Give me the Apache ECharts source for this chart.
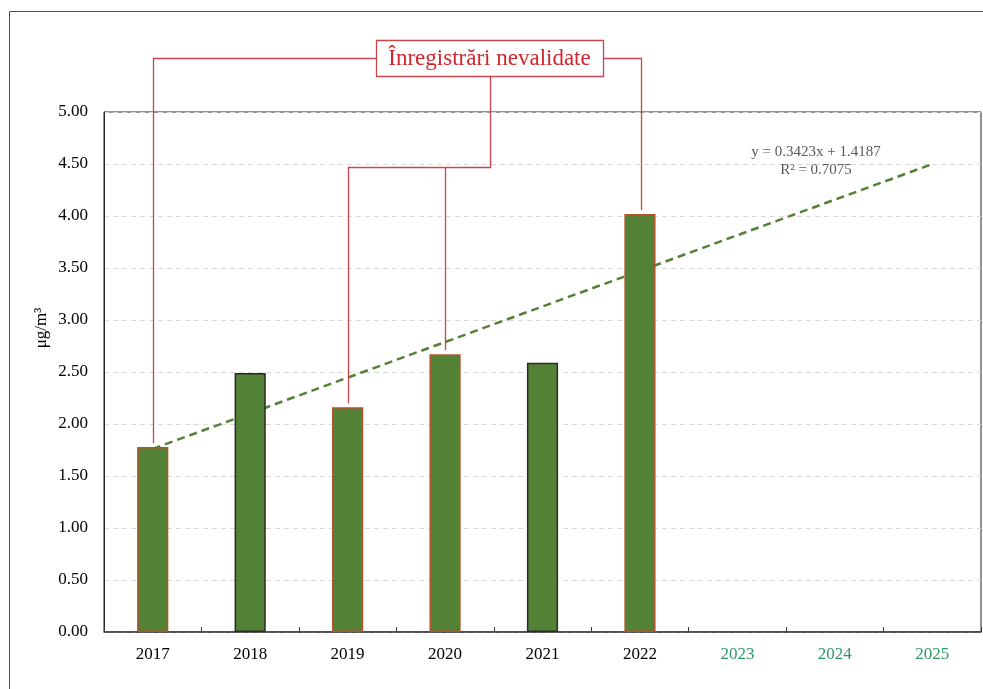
<!DOCTYPE html>
<html>
<head>
<meta charset="utf-8">
<script src="https://cdn.jsdelivr.net/npm/echarts@6/dist/echarts.min.js"></script>
<style>
  html, body { margin: 0; padding: 0; background: #fff; }
  #chart { width: 983px; height: 689px; }
</style>
</head>
<body>
<div id="chart"></div>
<script>
// Annual mean concentrations (µg/m³)
var years = ['2017', '2018', '2019', '2020', '2021', '2022', '2023', '2024', '2025'];
var values = [1.78, 2.49, 2.16, 2.67, 2.59, 4.02, null, null, null];
// Years whose records were not validated
var invalidYears = ['2017', '2019', '2020', '2022'];
// Linear trend (x = 1 for the first year)
var trendSlope = 0.3423;
var trendIntercept = 1.4187;
var trendR2 = 0.7075;
var forecastYears = ['2023', '2024', '2025'];
var yTicks = [0, 0.5, 1, 1.5, 2, 2.5, 3, 3.5, 4, 4.5, 5];

var SERIF = '"Liberation Serif", "Times New Roman", serif';
var GREEN = '#538135';
var RED = '#c9474c';

var chart = echarts.init(document.getElementById('chart'));

var barData = values.map(function (v, i) {
  var invalid = invalidYears.indexOf(years[i]) >= 0;
  return {
    value: v,
    itemStyle: { borderColor: invalid ? '#b5532b' : '#2b2b2b' }
  };
});

var lastIdx = years.length - 1;
var trendData = [
  [0, trendIntercept + trendSlope * 1],
  [lastIdx, trendIntercept + trendSlope * (lastIdx + 1)]
];

chart.setOption({
  animation: false,
  backgroundColor: '#fff',
  grid: {
    left: 104, right: 2, top: 112, bottom: 57,
    show: true, borderColor: '#262626', borderWidth: 1, backgroundColor: 'transparent'
  },
  xAxis: {
    type: 'category',
    data: years,
    boundaryGap: true,
    axisLine: { lineStyle: { color: '#3a3a3a', width: 1.5 } },
    axisTick: { show: true, inside: true, length: 5, lineStyle: { color: '#3a3a3a' } },
    axisLabel: {
      fontFamily: SERIF, fontSize: 17, margin: 14,
      color: function (val) {
        return forecastYears.indexOf(val) >= 0 ? '#2e9a62' : '#000';
      }
    },
    splitLine: { show: false }
  },
  yAxis: {
    type: 'value',
    min: 0, max: 5, interval: 0.5,
    axisLine: { show: true, lineStyle: { color: '#262626' } },
    axisTick: { show: false },
    axisLabel: {
      fontFamily: SERIF, fontSize: 17, color: '#000', margin: 16,
      formatter: function (v) { return v.toFixed(2); }
    },
    splitLine: { show: true, lineStyle: { color: '#d9d9d9', type: [5, 4] } }
  },
  series: [
    {
      type: 'bar',
      data: barData,
      barWidth: '32%',
      itemStyle: { color: GREEN, borderWidth: 1.5 },
      z: 2
    },
    {
      type: 'line',
      data: trendData,
      symbol: 'none',
      lineStyle: { color: GREEN, width: 2.5, type: [8, 5] },
      z: 1
    }
  ]
});

function px(idx, val) {
  return chart.convertToPixel({ gridIndex: 0 }, [idx, val]);
}

// Callout connectors from the label box down to the bars of the unvalidated years
function connectorTop(year) {
  var i = years.indexOf(year);
  var p = px(i, values[i]);
  return [Math.round(p[0]) + 0.5, p[1] - 4];
}
var c17 = connectorTop('2017');
var c19 = connectorTop('2019');
var c20 = connectorTop('2020');
var c22 = connectorTop('2022');
var boxL = 376, boxR = 603, boxT = 40, boxB = 76, midY = 58.5;
var stemX = 490.5, branchY = 167.5;

var lineStyle = { stroke: RED, lineWidth: 1.3, fill: null };

chart.setOption({
  graphic: [
    // outer frame
    { type: 'rect', shape: { x: 9.5, y: 11.5, width: 1000, height: 700 },
      style: { fill: null, stroke: '#4d4d4d', lineWidth: 1 }, silent: true },
    // y-axis title
    { type: 'text', x: 42, y: 328, rotation: Math.PI / 2,
      style: { text: 'μg/m³', font: '17px ' + SERIF, fill: '#000',
               textAlign: 'center', textVerticalAlign: 'middle' } },
    // trend equation
    { type: 'text', x: 816, y: 152,
      style: { text: 'y = ' + trendSlope.toFixed(4) + 'x + ' + trendIntercept.toFixed(4),
               font: '15px ' + SERIF, fill: '#595959', textAlign: 'center', textVerticalAlign: 'middle' } },
    { type: 'text', x: 816, y: 170,
      style: { text: 'R² = ' + trendR2.toFixed(4),
               font: '15px ' + SERIF, fill: '#595959', textAlign: 'center', textVerticalAlign: 'middle' } },
    // connectors
    { type: 'polyline', shape: { points: [[boxL, midY], [c17[0], midY], c17] }, style: lineStyle, z: 10 },
    { type: 'polyline', shape: { points: [[boxR, midY], [c22[0] + 1, midY], [c22[0] + 1, c22[1]]] }, style: lineStyle, z: 10 },
    { type: 'polyline', shape: { points: [[stemX, boxB], [stemX, branchY], [c19[0], branchY], c19] }, style: lineStyle, z: 10 },
    { type: 'polyline', shape: { points: [[c20[0], branchY], c20] }, style: lineStyle, z: 10 },
    // label box
    { type: 'rect', shape: { x: boxL + 0.5, y: boxT + 0.5, width: boxR - boxL, height: boxB - boxT },
      style: { fill: '#fff', stroke: RED, lineWidth: 1.3 }, z: 11 },
    { type: 'text', x: (boxL + boxR) / 2, y: (boxT + boxB) / 2 + 1, z: 12,
      style: { text: 'Înregistrări nevalidate', font: '23px ' + SERIF, fill: '#d0262f',
               textAlign: 'center', textVerticalAlign: 'middle' } }
  ]
});
</script>
</body>
</html>
